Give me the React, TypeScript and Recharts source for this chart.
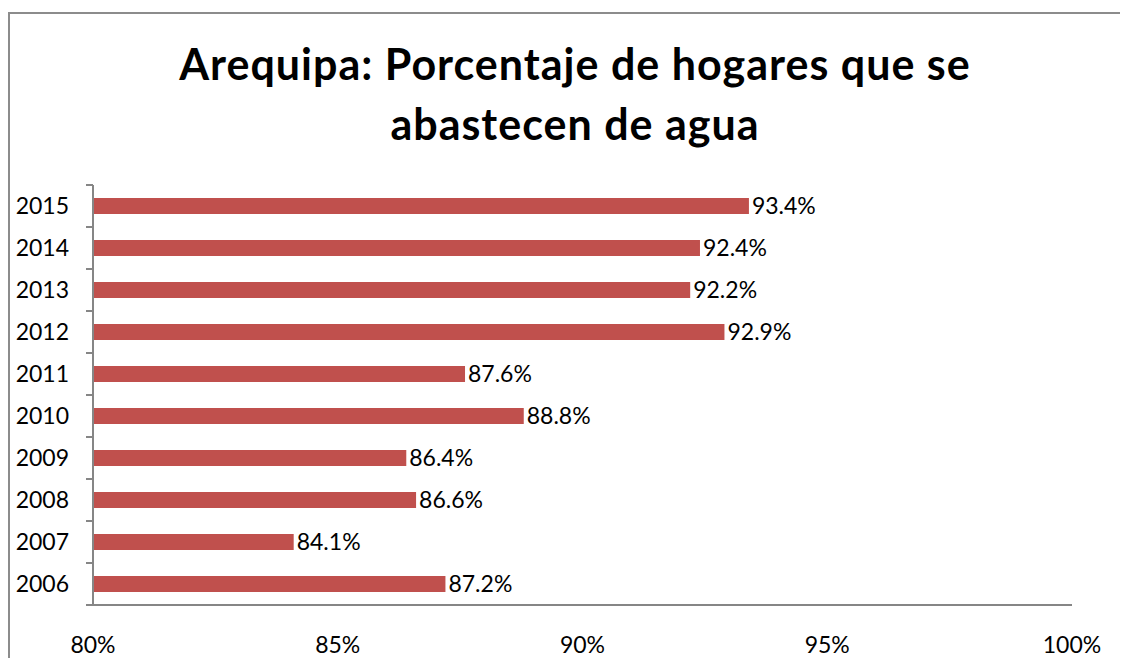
import React from 'react';
import { BarChart, Bar, XAxis, YAxis, LabelList } from 'recharts';

const YEARS = ['2006', '2007', '2008', '2009', '2010', '2011', '2012', '2013', '2014', '2015'];
const VALUES = [87.2, 84.1, 86.6, 86.4, 88.8, 87.6, 92.9, 92.2, 92.4, 93.4];
const X_TICKS = [80, 85, 90, 95, 100];

const data = YEARS.map((year, i) => ({ year, value: VALUES[i] }));

const FONT = 'Lato, "Open Sans", sans-serif';
const AXIS = '#868686';
const BAND = 42;

// Excel style: label plus tick marks between categories
const YTick = (props: any) => {
  const { x, y, payload, index } = props;
  return (
    <g>
      <text x={x - 16} y={y} dy={8} textAnchor="end" fontSize={23} fill="#000" fontFamily={FONT}>
        {payload.value}
      </text>
      <line x1={x + 1} x2={x + 8} y1={y - BAND / 2} y2={y - BAND / 2} stroke={AXIS} strokeWidth={2} />
      {index === 0 && <line x1={x + 1} x2={x + 8} y1={y + BAND / 2} y2={y + BAND / 2} stroke={AXIS} strokeWidth={2} />}
    </g>
  );
};

export default function App() {
  return (
    <div style={{ position: 'relative', width: 1112, height: 650, background: '#fff' }}>
      <style>{'html, body { overflow: hidden; }'}</style>
      {/* chart frame runs past the right and bottom of the view */}
      <svg
        width={1112}
        height={650}
        style={{ position: 'absolute', left: 0, top: 0 }}
      >
        <path d="M1 650 L1 5 L1112 5" fill="none" stroke="#8c8c8c" strokeWidth={2} />
      </svg>
      <div
        style={{
          position: 'absolute',
          left: 0,
          top: 26,
          width: 1134,
          textAlign: 'center',
          fontFamily: FONT,
          fontWeight: 'bold',
          fontSize: 43,
          letterSpacing: 1,
          lineHeight: '60px',
          color: '#000',
        }}
      >
        Arequipa: Porcentaje de hogares que se
        <br />
        abastecen de agua
      </div>
      <div style={{ position: 'absolute', left: 0, top: 0 }}>
        <BarChart
          width={1112}
          height={658}
          data={data}
          layout="vertical"
          margin={{ top: 177, right: 48, left: 0, bottom: 0 }}
          barCategoryGap={13}
        >
          <XAxis
            type="number"
            domain={[80, 100]}
            ticks={X_TICKS}
            allowDataOverflow
            tickFormatter={(v: number) => `${v}%`}
            axisLine={{ stroke: AXIS, strokeWidth: 2 }}
            tickLine={false}
            height={61}
            tick={{ fontSize: 23, fill: '#000', fontFamily: FONT, dy: 24 }}
          />
          <YAxis
            type="category"
            dataKey="year"
            reversed
            width={85}
            axisLine={{ stroke: AXIS, strokeWidth: 2 }}
            tickLine={false}
            tick={<YTick />}
            interval={0}
          />
          <Bar dataKey="value" fill="#C0504D" isAnimationActive={false}>
            <LabelList
              dataKey="value"
              position="right"
              offset={3}
              formatter={(v: any) => `${Number(v).toFixed(1)}%`}
              style={{ fontSize: 23, fill: '#000', fontFamily: FONT }}
            />
          </Bar>
        </BarChart>
      </div>
    </div>
  );
}
